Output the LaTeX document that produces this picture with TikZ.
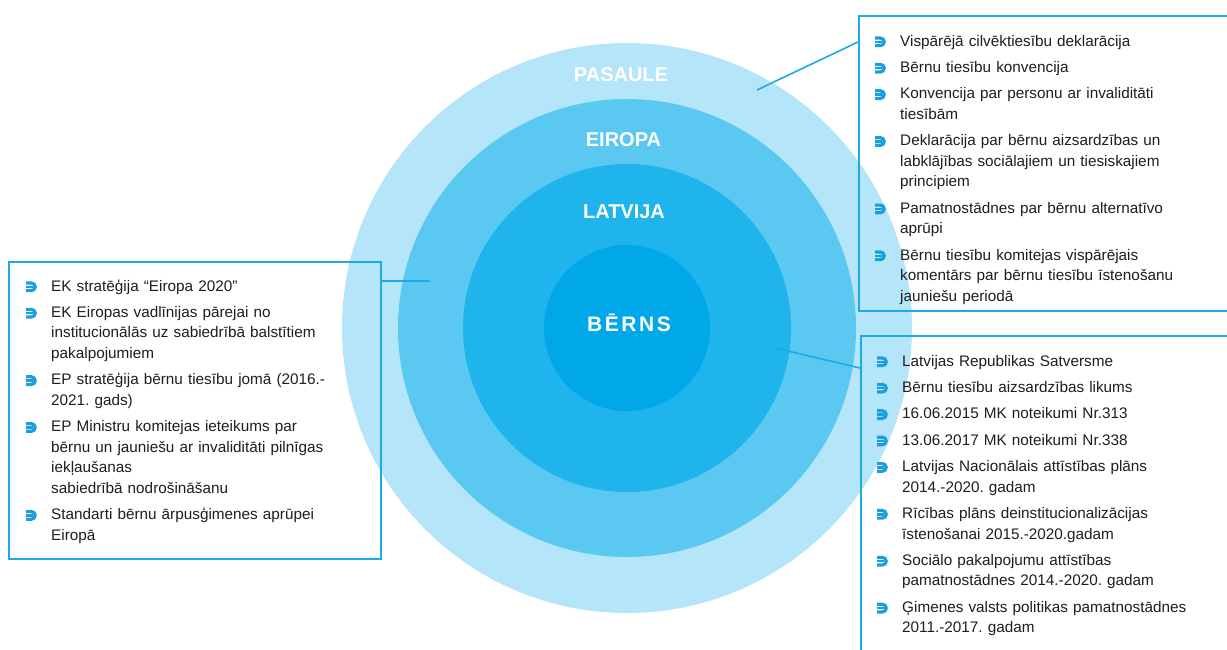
\documentclass[tikz,border=0pt]{standalone}
\usepackage{fontspec}
\setmainfont{Liberation Sans}
\usetikzlibrary{positioning, calc}
\frenchspacing

\definecolor{pasc}{HTML}{B5E5F9}
\definecolor{euc}{HTML}{5BC8F2}
\definecolor{lvc}{HTML}{1FB4EC}
\definecolor{chc}{HTML}{00A8E9}
\definecolor{linec}{HTML}{1EAAE6}
\definecolor{bulc}{HTML}{1A9FDD}
\definecolor{txtc}{HTML}{1E1E1E}

\tikzset{
  ring/.style={circle, inner sep=0pt, draw=none},
  ringlabel/.style={text=white, font=\fontsize{20}{24}\selectfont\bfseries},
  listbox/.style={draw=linec, line width=1.6pt, inner sep=0pt, anchor=north west},
  conn/.style={draw=linec, line width=1.6pt},
  item/.style={text=txtc, font=\fontsize{15.3}{20.5}\selectfont, text width=330pt,
    align=left, inner sep=0pt,
    execute at begin node={\rule{0pt}{15pt}},
    execute at end node={\rule[-5pt]{0pt}{5pt}}},
  nextitem/.style={below=6pt of #1.south west, anchor=north west},
  bul/.pic={
    \draw[bulc, line width=3.2pt, rounded corners=3.8pt] (-5,-3.8) -- (4.2,-3.8) -- (4.2,3.8) -- (-5,3.8);
    \draw[bulc, line width=2.4pt] (-5,0) -- (1.6,0);
  }
}

\begin{document}
\begin{tikzpicture}[x=1pt, y=-1pt]
    \clip (0,0) rectangle (1227,649);
    \fill[white] (0,0) rectangle (1227,649);

    % Rings
    \coordinate (c) at (627,328);
    \node[ring, fill=pasc, minimum size=570pt] (pas) at (c) {};
    \node[ring, fill=euc, minimum size=458pt] (eu) at (c) {};
    \node[ring, fill=lvc, minimum size=328pt] (lv) at (c) {};
    \node[ring, fill=chc, minimum size=166pt] (ch) at (c) {};

    \node[ringlabel] (paslbl) at (621,75) {PASAULE};
    \node[ringlabel] (eulbl) at (623.5,140) {EIROPA};
    \node[ringlabel] (lvlbl) at (624,212) {LATVIJA};
    \node[ringlabel, font=\fontsize{21}{24}\selectfont\bfseries] (chlbl) at (629,323)
        {\addfontfeature{LetterSpace=12}BĒRNS};

    % Boxes
    \node[listbox, minimum width=382pt, minimum height=295pt] (wldbox) at (858,15) {};
    \node[listbox, minimum width=380pt, minimum height=325pt] (lvbox) at (860,335) {};
    \node[listbox, minimum width=372pt, minimum height=297pt] (eubox) at (8,261) {};

    % Connectors
    \coordinate (wldpin) at (757,90);
    \coordinate (eupin) at (430,281);
    \coordinate (lvpin) at (775,348);
    \draw[conn] (wldpin) -- ($(wldbox.north west)+(0,27)$);
    \draw[conn] ($(eubox.north east)+(0,20)$) -- (eupin);
    \draw[conn] (lvpin) -- ($(lvbox.north west)+(0,33)$);

    % World
    \node[item, anchor=base west] (w1) at (900,46) {Vispārējā cilvēktiesību deklarācija};
    \node[item, nextitem=w1] (w2) {Bērnu tiesību konvencija};
    \node[item, nextitem=w2] (w3) {Konvencija par personu ar invaliditāti\\tiesībām};
    \node[item, nextitem=w3] (w4) {Deklarācija par bērnu aizsardzības un\\labklājības sociālajiem un tiesiskajiem\\principiem};
    \node[item, nextitem=w4] (w5) {Pamatnostādnes par bērnu alternatīvo\\aprūpi};
    \node[item, nextitem=w5] (w6) {Bērnu tiesību komitejas vispārējais\\komentārs par bērnu tiesību īstenošanu\\jauniešu periodā};

    % Latvia
    \node[item, anchor=base west] (l1) at (902,366) {Latvijas Republikas Satversme};
    \node[item, nextitem=l1] (l2) {Bērnu tiesību aizsardzības likums};
    \node[item, nextitem=l2] (l3) {16.06.2015 MK noteikumi Nr.313};
    \node[item, nextitem=l3] (l4) {13.06.2017 MK noteikumi Nr.338};
    \node[item, nextitem=l4] (l5) {Latvijas Nacionālais attīstības plāns\\2014.-2020. gadam};
    \node[item, nextitem=l5] (l6) {Rīcības plāns deinstitucionalizācijas\\īstenošanai 2015.-2020.gadam};
    \node[item, nextitem=l6] (l7) {Sociālo pakalpojumu attīstības\\pamatnostādnes 2014.-2020. gadam};
    \node[item, nextitem=l7] (l8) {Ģimenes valsts politikas pamatnostādnes\\2011.-2017. gadam};

    % Europe
    \node[item, anchor=base west] (e1) at (51,291) {EK stratēģija “Eiropa 2020”};
    \node[item, nextitem=e1] (e2) {EK Eiropas vadlīnijas pārejai no\\institucionālās uz sabiedrībā balstītiem\\pakalpojumiem};
    \node[item, nextitem=e2] (e3) {EP stratēģija bērnu tiesību jomā (2016.-\\2021. gads)};
    \node[item, nextitem=e3] (e4) {EP Ministru komitejas ieteikums par\\bērnu un jauniešu ar invaliditāti pilnīgas\\iekļaušanas\\sabiedrībā nodrošināšanu};
    \node[item, nextitem=e4] (e5) {Standarti bērnu ārpusģimenes aprūpei\\Eiropā};

    % Bullets
    \foreach \it in {w1,w2,w3,w4,w5,w6,l1,l2,l3,l4,l5,l6,l7,l8,e1,e2,e3,e4,e5} {
        \pic at ($(\it.north west)+(-20,11)$) {bul};
    }
\end{tikzpicture}
\end{document}
